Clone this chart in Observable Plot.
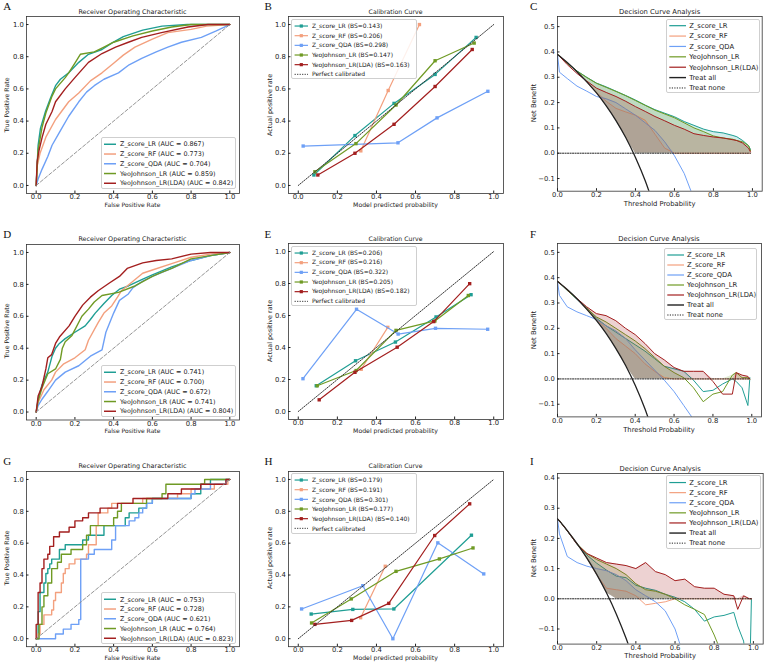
<!DOCTYPE html>
<html><head><meta charset="utf-8">
<script src="https://cdn.jsdelivr.net/npm/d3@7"></script>
<script src="https://cdn.jsdelivr.net/npm/@observablehq/plot@0.6"></script>
<style>
body{margin:0;background:#fff;}
#root{position:relative;width:767px;height:665px;overflow:hidden;font-family:"DejaVu Sans",sans-serif;color:#222;background:#fff}
.abs{position:absolute;white-space:nowrap;line-height:1}
</style></head><body><div id="root"></div>
<script>
// ---------------- DATA ----------------
const modelNames = ["Z_score_LR","Z_score_RF","Z_score_QDA","YeoJohnson_LR","YeoJohnson_LR(LDA)"];
const colors = ["#1f9e94","#f3a07e","#6ea0f6","#6f9a24","#a31f1f"];
const aucA = ["0.867","0.773","0.704","0.859","0.842"];
const aucD = ["0.741","0.700","0.672","0.741","0.804"];
const aucG = ["0.753","0.728","0.621","0.764","0.823"];
const bsB = ["0.143","0.206","0.298","0.147","0.163"];
const bsE = ["0.206","0.216","0.322","0.205","0.182"];
const bsH = ["0.179","0.191","0.301","0.177","0.140"];
const unitTicks = [0,0.2,0.4,0.6,0.8,1.0];
const dcaTicks5 = [-0.1,0,0.1,0.2,0.3,0.4,0.5];
const dcaTicks4 = [-0.1,0,0.1,0.2,0.3,0.4];
const diag = [0,1];

// ROC curves [fpr, tpr]
const A_zlr = [[0,0],[0.01,0.25],[0.022,0.355],[0.048,0.46],[0.074,0.544],[0.1,0.62],[0.125,0.66],[0.168,0.7],[0.22,0.765],[0.27,0.815],[0.34,0.845],[0.39,0.885],[0.45,0.925],[0.55,0.965],[0.65,0.99],[0.78,1],[1,1]];
const A_zrf = [[0,0],[0.005,0.12],[0.02,0.2],[0.05,0.3],[0.1,0.41],[0.168,0.52],[0.22,0.575],[0.28,0.65],[0.34,0.7],[0.4,0.76],[0.45,0.81],[0.51,0.86],[0.6,0.91],[0.68,0.95],[0.8,0.97],[0.88,0.99],[1,1]];
const A_zqda = [[0,0],[0.01,0.04],[0.03,0.1],[0.06,0.18],[0.082,0.25],[0.12,0.33],[0.168,0.43],[0.22,0.52],[0.26,0.58],[0.3,0.62],[0.35,0.66],[0.425,0.7],[0.48,0.75],[0.545,0.79],[0.62,0.83],[0.68,0.86],[0.75,0.89],[0.853,0.92],[0.93,0.96],[1,1]];
const A_ylr = [[0,0],[0.01,0.22],[0.03,0.36],[0.05,0.45],[0.08,0.55],[0.1,0.6],[0.15,0.67],[0.168,0.7],[0.2,0.76],[0.228,0.815],[0.3,0.83],[0.35,0.86],[0.4,0.89],[0.5,0.93],[0.6,0.96],[0.7,0.985],[0.8,1],[1,1]];
const A_ylda = [[0,0],[0.005,0.15],[0.015,0.22],[0.031,0.3],[0.05,0.38],[0.082,0.46],[0.1,0.52],[0.15,0.6],[0.2,0.67],[0.27,0.765],[0.34,0.82],[0.41,0.86],[0.476,0.89],[0.545,0.92],[0.647,0.95],[0.784,0.985],[0.887,1],[1,1]];

const D_zlr = [[0,0],[0.01,0.08],[0.03,0.17],[0.06,0.25],[0.082,0.35],[0.1,0.4],[0.12,0.43],[0.15,0.46],[0.2,0.5],[0.253,0.54],[0.28,0.58],[0.305,0.62],[0.35,0.68],[0.39,0.73],[0.43,0.77],[0.476,0.79],[0.545,0.83],[0.6,0.86],[0.7,0.91],[0.8,0.95],[0.9,0.98],[1,1]];
const D_zrf = [[0,0],[0.01,0.06],[0.04,0.14],[0.08,0.2],[0.1,0.25],[0.14,0.3],[0.2,0.34],[0.253,0.39],[0.27,0.45],[0.32,0.56],[0.35,0.62],[0.39,0.665],[0.42,0.72],[0.44,0.76],[0.5,0.82],[0.55,0.87],[0.6,0.89],[0.7,0.93],[0.8,0.97],[0.9,0.99],[1,1]];
const D_zqda = [[0,0],[0.01,0.04],[0.03,0.08],[0.06,0.13],[0.1,0.2],[0.15,0.25],[0.22,0.29],[0.28,0.35],[0.34,0.39],[0.36,0.5],[0.4,0.62],[0.43,0.7],[0.476,0.74],[0.5,0.78],[0.55,0.82],[0.6,0.85],[0.7,0.9],[0.8,0.95],[0.9,0.98],[1,1]];
const D_ylr = [[0,0],[0.01,0.07],[0.03,0.15],[0.06,0.24],[0.1,0.27],[0.125,0.33],[0.135,0.4],[0.15,0.44],[0.185,0.48],[0.236,0.6],[0.27,0.645],[0.3,0.69],[0.34,0.73],[0.425,0.75],[0.51,0.79],[0.6,0.85],[0.647,0.875],[0.7,0.9],[0.8,0.96],[0.9,0.98],[1,1]];
const D_ylda = [[0,0],[0.01,0.1],[0.03,0.16],[0.05,0.27],[0.06,0.34],[0.08,0.36],[0.1,0.43],[0.12,0.47],[0.17,0.54],[0.2,0.6],[0.24,0.67],[0.28,0.72],[0.32,0.76],[0.38,0.81],[0.43,0.85],[0.47,0.9],[0.55,0.935],[0.62,0.95],[0.7,0.96],[0.8,0.99],[0.9,1],[1,1]];

const G_zlr = [[0,0],[0.01,0.17],[0.02,0.29],[0.04,0.35],[0.05,0.41],[0.06,0.44],[0.07,0.47],[0.08,0.5],[0.12,0.56],[0.15,0.59],[0.24,0.62],[0.27,0.65],[0.35,0.71],[0.46,0.76],[0.48,0.79],[0.53,0.82],[0.57,0.85],[0.6,0.88],[0.8,0.91],[0.85,0.97],[0.9,1.0],[1,1]];
const G_zrf = [[0,0],[0.01,0.03],[0.02,0.09],[0.04,0.15],[0.08,0.18],[0.09,0.24],[0.1,0.29],[0.13,0.35],[0.14,0.41],[0.15,0.44],[0.17,0.47],[0.2,0.5],[0.26,0.53],[0.27,0.59],[0.31,0.71],[0.32,0.79],[0.37,0.82],[0.39,0.85],[0.55,0.88],[0.73,0.91],[0.8,0.94],[0.92,0.97],[0.99,1.0],[1,1]];
const G_zqda = [[0,0],[0.1,0.03],[0.14,0.06],[0.18,0.09],[0.22,0.12],[0.23,0.5],[0.27,0.53],[0.3,0.56],[0.39,0.62],[0.41,0.71],[0.48,0.74],[0.51,0.76],[0.53,0.79],[0.55,0.82],[0.57,0.85],[0.6,0.88],[0.8,0.91],[0.82,0.94],[0.9,0.97],[0.98,1.0],[1,1]];
const G_ylr = [[0,0],[0.015,0.09],[0.03,0.2],[0.04,0.27],[0.06,0.35],[0.08,0.44],[0.11,0.48],[0.13,0.53],[0.18,0.56],[0.24,0.59],[0.26,0.65],[0.28,0.71],[0.4,0.76],[0.42,0.8],[0.44,0.85],[0.57,0.88],[0.65,0.91],[0.67,0.97],[0.87,1.0],[1,1]];
const G_ylda = [[0,0],[0,0.09],[0.01,0.29],[0.02,0.35],[0.03,0.44],[0.04,0.5],[0.06,0.53],[0.07,0.58],[0.09,0.64],[0.12,0.67],[0.17,0.7],[0.2,0.74],[0.24,0.76],[0.27,0.79],[0.33,0.82],[0.42,0.85],[0.5,0.88],[0.68,0.91],[0.75,0.94],[0.85,0.97],[0.98,1.0],[1,1]];

// Calibration [mean predicted, fraction positive]
const B_zlr = [[0.08,0.065],[0.29,0.31],[0.49,0.51],[0.7,0.69],[0.91,0.92]];
const B_zrf = [[0.32,0.215],[0.46,0.59],[0.62,1.0]];
const B_zqda = [[0.025,0.245],[0.51,0.265],[0.71,0.42],[0.97,0.585]];
const B_ylr = [[0.085,0.085],[0.295,0.26],[0.5,0.5],[0.7,0.775],[0.9,0.885]];
const B_ylda = [[0.1,0.065],[0.29,0.2],[0.49,0.38],[0.7,0.615],[0.89,0.845]];
const E_zlr = [[0.092,0.161],[0.293,0.317],[0.497,0.434],[0.705,0.591],[0.884,0.73]];
const E_zrf = [[0.322,0.264],[0.458,0.526]];
const E_zqda = [[0.024,0.205],[0.298,0.639],[0.511,0.484],[0.702,0.52],[0.969,0.514]];
const E_ylr = [[0.097,0.161],[0.296,0.256],[0.5,0.507],[0.699,0.566],[0.87,0.725]];
const E_ylda = [[0.107,0.073],[0.29,0.245],[0.506,0.402],[0.693,0.562],[0.877,0.799]];
const H_zlr = [[0.066,0.155],[0.279,0.184],[0.489,0.187],[0.886,0.65]];
const H_zrf = [[0.319,0.132],[0.445,0.455]];
const H_zqda = [[0.017,0.187],[0.33,0.333],[0.484,0.0],[0.714,0.602],[0.949,0.407]];
const H_ylr = [[0.068,0.099],[0.271,0.25],[0.5,0.423],[0.722,0.501],[0.894,0.57]];
const H_ylda = [[0.085,0.09],[0.273,0.115],[0.463,0.222],[0.698,0.648],[0.877,0.847]];

// Decision curves: net benefit at thresholds T
const T = [0,0.01,0.05,0.1,0.15,0.2,0.25,0.3,0.35,0.4,0.45,0.5,0.55,0.6,0.65,0.7,0.75,0.8,0.85,0.9,0.92,0.95,0.98,0.99];
const C_all = [0.39,0.384,0.358,0.322,0.282,0.238,0.187,0.129,0.062,-0.017,-0.109,-0.22,null,null,null,null,null,null,null,null,null,null,null,null];
const C_zlr = [0.39,0.385,0.355,0.325,0.3,0.277,0.262,0.245,0.228,0.21,0.19,0.172,0.158,0.144,0.125,0.11,0.095,0.085,0.08,0.07,0.065,0.05,0.03,0.015];
const C_zrf = [0.39,0.384,0.358,0.322,0.283,0.24,0.205,0.177,0.163,0.15,0.13,0.075,0.02,0,0,0,0,0,0,0,0,0,0,0];
const C_zqda = [0.39,0.32,0.295,0.265,0.245,0.224,0.215,0.2,0.175,0.15,0.12,0.09,0.045,-0.01,-0.08,-0.18,null,null,null,null,null,null,null,null];
const C_ylr = [0.39,0.385,0.355,0.324,0.299,0.276,0.26,0.244,0.227,0.208,0.189,0.17,0.155,0.14,0.12,0.1,0.085,0.068,0.06,0.055,0.05,0.045,0.03,0.01];
const C_ylda = [0.39,0.383,0.35,0.315,0.285,0.257,0.24,0.224,0.205,0.184,0.165,0.145,0.128,0.11,0.095,0.077,0.07,0.064,0.06,0.053,0.05,0.04,0.02,0.005];

const F_all = [0.385,0.379,0.353,0.317,0.276,0.231,0.18,0.121,0.054,-0.025,-0.118,-0.23,null,null,null,null,null,null,null,null,null,null,null,null];
const F_zlr = [0.385,0.38,0.35,0.315,0.28,0.24,0.21,0.185,0.16,0.135,0.11,0.08,0.05,0.04,0.03,-0.005,-0.05,-0.045,-0.02,0,-0.01,-0.035,-0.105,0.005];
const F_zrf = [0.385,0.379,0.353,0.317,0.276,0.235,0.2,0.16,0.13,0.1,0.06,0.03,0.005,0,0,0,0,0,0,0,0,0,0,0];
const F_zqda = [0.385,0.33,0.285,0.265,0.25,0.235,0.21,0.19,0.16,0.115,0.075,0.035,-0.005,-0.05,-0.105,-0.16,null,null,null,null,null,null,null,null];
const F_ylr = [0.385,0.38,0.35,0.316,0.28,0.245,0.225,0.2,0.175,0.15,0.12,0.085,0.05,0.025,0.005,-0.035,-0.09,-0.06,-0.05,0.015,0.025,0.005,0.005,0];
const F_ylda = [0.385,0.38,0.352,0.318,0.285,0.258,0.25,0.23,0.2,0.175,0.14,0.1,0.075,0.045,0.03,0.03,0.03,-0.01,-0.06,-0.06,0.025,0.015,0.01,0];

const I_all = [0.265,0.258,0.226,0.183,0.135,0.081,0.02,-0.05,-0.131,-0.225,null,null,null,null,null,null,null,null,null,null,null,null,null,null];
const I_zlr = [0.265,0.258,0.225,0.18,0.145,0.118,0.095,0.075,0.07,0.045,0.035,0.028,0.015,0.005,-0.01,-0.035,-0.074,-0.06,-0.055,-0.045,-0.09,-0.14,-0.3,0];
const I_zrf = [0.265,0.258,0.226,0.183,0.135,0.08,0.035,0.03,0.025,0.01,-0.02,-0.015,-0.01,0,0,0,0,0,0,0,0,0,0,0];
const I_zqda = [0.265,0.215,0.14,0.12,0.108,0.1,0.093,0.08,0.06,0.03,0.01,-0.01,-0.04,-0.1,-0.2,null,null,null,null,null,null,null,null,null];
const I_ylr = [0.265,0.258,0.225,0.182,0.15,0.13,0.115,0.1,0.08,0.05,0.03,0.025,0.015,0,-0.02,-0.035,-0.052,-0.12,-0.2,null,null,null,null,null];
const I_ylda = [0.265,0.258,0.225,0.18,0.15,0.135,0.12,0.115,0.11,0.1,0.12,0.09,0.08,0.06,0.065,0.04,0.035,0.035,0.015,0.01,-0.035,0.01,0,0];

// ---------------- DRAWING ----------------
const root = document.getElementById("root");
const FONT = '"DejaVu Sans", sans-serif';
const fmt = d3.format(".1f");

function addText(str, cx, cy, size, rotate=false) {
  const d = document.createElement("div");
  d.className = "abs"; d.textContent = str;
  d.style.fontSize = size + "px"; d.style.fontFamily = FONT;
  d.style.left = cx + "px"; d.style.top = cy + "px";
  d.style.transform = "translate(-50%,-50%)" + (rotate ? " rotate(-90deg)" : "");
  root.appendChild(d);
}
function addLetter(str, left, top) {
  const d = document.createElement("div");
  d.className = "abs"; d.textContent = str;
  d.style.cssText += `left:${left}px;top:${top}px;font-size:11px;font-family:"Liberation Serif","DejaVu Serif",serif;color:#111`;
  root.appendChild(d);
}
function addLegend({left, top, width, rowH, pad, size, s0, s1, textX, items}) {
  const h = items.length * rowH + 2 * pad;
  const box = document.createElement("div");
  box.style.cssText = `position:absolute;left:${left}px;top:${top}px;width:${width}px;height:${h}px;border:0.7px solid #cfcfcf;border-radius:2px;background:rgba(255,255,255,0.85);box-sizing:border-box;`;
  const ns = "http://www.w3.org/2000/svg";
  const svg = document.createElementNS(ns, "svg");
  svg.setAttribute("width", width); svg.setAttribute("height", h);
  svg.style.cssText = "position:absolute;left:0;top:0;overflow:visible";
  items.forEach((it, i) => {
    const cy = pad + (i + 0.5) * rowH;
    const ln = document.createElementNS(ns, "line");
    ln.setAttribute("x1", s0); ln.setAttribute("x2", s1);
    ln.setAttribute("y1", cy); ln.setAttribute("y2", cy);
    ln.setAttribute("stroke", it.color); ln.setAttribute("stroke-width", it.w || 1.4);
    if (it.dash) ln.setAttribute("stroke-dasharray", it.dash);
    svg.appendChild(ln);
    if (it.marker) {
      const r = document.createElementNS(ns, "rect");
      r.setAttribute("x", (s0 + s1) / 2 - 1.6); r.setAttribute("y", cy - 1.6);
      r.setAttribute("width", 3.2); r.setAttribute("height", 3.2);
      r.setAttribute("fill", it.color);
      svg.appendChild(r);
    }
    const t = document.createElement("div");
    t.className = "abs"; t.textContent = it.label;
    t.style.cssText += `left:${textX}px;top:${cy}px;transform:translateY(-50%);font-size:${size}px;font-family:${FONT};color:#222`;
    box.appendChild(t);
  });
  box.appendChild(svg);
  root.appendChild(box);
}

function panel({frame, xDomain, yDomain, xTicks, yTicks, marks}) {
  const [x0, x1, y0, y1] = frame;
  const mL = 30, mR = 3, mT = 3, mB = 22;
  const fw = x1 - x0, fh = y1 - y0;
  const svg = Plot.plot({
    width: fw + mL + mR, height: fh + mT + mB,
    marginLeft: mL, marginRight: mR, marginTop: mT, marginBottom: mB,
    x: {domain: xDomain, label: null},
    y: {domain: yDomain, label: null},
    style: {fontFamily: FONT, fontSize: "6.8px", color: "#222", background: "transparent", overflow: "visible"},
    marks: [
      ...marks,
      Plot.frame({stroke: "#333", strokeWidth: 0.8}),
      Plot.axisX({ticks: xTicks, tickSize: 0, tickPadding: 0.8, tickFormat: fmt, label: null}),
      Plot.axisX({ticks: xTicks, tickSize: 2.5, dy: -2.5, tickFormat: () => "", label: null}),
      Plot.axisY({ticks: yTicks, tickSize: 0, tickPadding: 2.7, tickFormat: fmt, label: null}),
      Plot.axisY({ticks: yTicks, tickSize: 2.5, dx: 2.5, tickFormat: () => "", label: null})
    ]
  });
  svg.style.position = "absolute";
  svg.style.left = (x0 - mL) + "px";
  svg.style.top = (y0 - mT) + "px";
  root.appendChild(svg);
}

function rocPanel(frame, series, curve, aucs, legendTop, letter, letterTop) {
  const marks = series.map((pts, i) => Plot.line(pts, {x: d => d[0], y: d => d[1], stroke: colors[i], strokeWidth: 1.4, curve}));
  marks.push(Plot.line(diag, {x: d => d, y: d => d, stroke: "#888", strokeWidth: 0.9, strokeDasharray: "3.5,2"}));
  panel({frame, xDomain: [-0.05, 1.05], yDomain: [-0.05, 1.05], xTicks: unitTicks, yTicks: unitTicks, marks});
  const [x0, x1, y0, y1] = frame;
  addText("Receiver Operating Characteristic", (x0 + x1) / 2, y0 - 4.2, 6.4);
  addText("False Positive Rate", (x0 + x1) / 2, y1 + 12.3, 6.0);
  addText("True Positive Rate", 6.7, (y0 + y1) / 2, 6.2, true);
  addLegend({left: 101, top: legendTop, width: 135, rowH: 9.75, pad: 1.4, size: 6.4, s0: 2, s1: 14, textX: 18,
    items: modelNames.map((m, i) => ({label: `${m} (AUC = ${aucs[i]})`, color: colors[i], w: 1.5}))});
  addLetter(letter, 3.3, letterTop);
}

function calPanel(frame, series, bss, legendTop, letter, letterTop) {
  const marks = [];
  series.forEach((pts, i) => {
    marks.push(Plot.line(pts, {x: d => d[0], y: d => d[1], stroke: colors[i], strokeWidth: 1.2}));
    marks.push(Plot.dot(pts, {x: d => d[0], y: d => d[1], fill: colors[i], symbol: "square", r: 1.9}));
  });
  marks.push(Plot.line(diag, {x: d => d, y: d => d, stroke: "#333", strokeWidth: 1, strokeDasharray: "1.2,1.3"}));
  panel({frame, xDomain: [-0.05, 1.05], yDomain: [-0.05, 1.05], xTicks: unitTicks, yTicks: unitTicks, marks});
  const [x0, x1, y0, y1] = frame;
  addText("Calibration Curve", (x0 + x1) / 2, y0 - 4.2, 6.2);
  addText("Model predicted probability", (x0 + x1) / 2, y1 + 12.3, 6.2);
  addText("Actual positive rate", 270, (y0 + y1) / 2, 6.4, true);
  const items = modelNames.map((m, i) => ({label: `${m} (BS=${bss[i]})`, color: colors[i], w: 1.2, marker: true}));
  items.push({label: "Perfect calibrated", color: "#333", w: 1, dash: "1.2,1.3"});
  addLegend({left: 290.7, top: legendTop, width: 126, rowH: 9.66, pad: 1.2, size: 6.0, s0: 2.6, s1: 16, textX: 20.3, items});
  addLetter(letter, 264.5, letterTop);
}

function dcaPanel(frame, yDomain, yTicks, series, treatAll, legend, letter, letterTop) {
  const marks = [];
  series.forEach((vals, i) => {
    const rows = T.map((t, j) => {
      const base = Math.max(treatAll[j] == null ? 0 : treatAll[j], 0);
      return {t, v: vals[j], base, top: vals[j] == null ? base : Math.max(vals[j], base)};
    });
    marks.push(Plot.areaY(rows, {x: "t", y1: "base", y2: "top", fill: colors[i], fillOpacity: 0.2, clip: true}));
    marks.push(Plot.line(rows.filter(d => d.v != null), {x: "t", y: "v", stroke: colors[i], strokeWidth: 1, clip: true}));
  });
  const allRows = T.map((t, j) => ({t, v: treatAll[j]})).filter(d => d.v != null);
  marks.push(Plot.line(allRows, {x: "t", y: "v", stroke: "#222", strokeWidth: 1.3, curve: "monotone-x", clip: true}));
  marks.push(Plot.line(T, {x: d => d, y: () => 0, stroke: "#222", strokeWidth: 1, strokeDasharray: "1.2,1.3"}));
  panel({frame, xDomain: [0, 1.05], yDomain, xTicks: unitTicks, yTicks, marks});
  const [x0, x1, y0, y1] = frame;
  addText("Decision Curve Analysis", (x0 + x1) / 2, y0 - 4.2, 6.8);
  addText("Threshold Probability", (x0 + x1) / 2, y1 + 13, 6.8);
  addText("Net Benefit", 534.3, (y0 + y1) / 2, 6.8, true);
  const items = modelNames.map((m, i) => ({label: m, color: colors[i], w: 1.2}));
  items.push({label: "Treat all", color: "#222", w: 1.4});
  items.push({label: "Treat none", color: "#222", w: 1, dash: "1.2,1.3"});
  addLegend({...legend, size: 6.8, s0: 2.3, s1: 19, textX: 22.3, items});
  addLetter(letter, 530, letterTop);
}

// Row 1
rocPanel([26, 239, 16, 193], [A_zlr, A_zrf, A_zqda, A_ylr, A_ylda], "linear", aucA, 137, "A", 1.4);
calPanel([288, 503, 16, 193], [B_zlr, B_zrf, B_zqda, B_ylr, B_ylda], bsB, 19, "B", 1.4);
dcaPanel([557.3, 762, 16, 190.7], [-0.15, 0.54], dcaTicks5, [C_zlr, C_zrf, C_zqda, C_ylr, C_ylda], C_all,
  {left: 666, top: 19.3, width: 94, rowH: 10.38, pad: 0.5}, "C", 1.4);
// Row 2
rocPanel([26, 239, 243.5, 419], [D_zlr, D_zrf, D_zqda, D_ylr, D_ylda], "linear", aucD, 365, "D", 228.5);
calPanel([288, 503, 243, 419], [E_zlr, E_zrf, E_zqda, E_ylr, E_ylda], bsE, 245.7, "E", 228.5);
dcaPanel([557, 761, 243.3, 416.7], [-0.15, 0.535], dcaTicks5, [F_zlr, F_zrf, F_zqda, F_ylr, F_ylda], F_all,
  {left: 663.7, top: 248.3, width: 93, rowH: 10, pad: 1}, "F", 228.5);
// Row 3
rocPanel([26, 239, 470.5, 645.7], [G_zlr, G_zrf, G_zqda, G_ylr, G_ylda], "step-after", aucG, 592.3, "G", 456);
calPanel([288, 503, 470.5, 645.7], [H_zlr, H_zrf, H_zqda, H_ylr, H_ylda], bsH, 473.3, "H", 456);
dcaPanel([557.3, 763, 472.7, 643.3], [-0.15, 0.415], dcaTicks4, [I_zlr, I_zrf, I_zqda, I_ylr, I_ylda], I_all,
  {left: 666, top: 475, width: 94.7, rowH: 10.1, pad: 1.5}, "I", 456);
</script></body></html>
